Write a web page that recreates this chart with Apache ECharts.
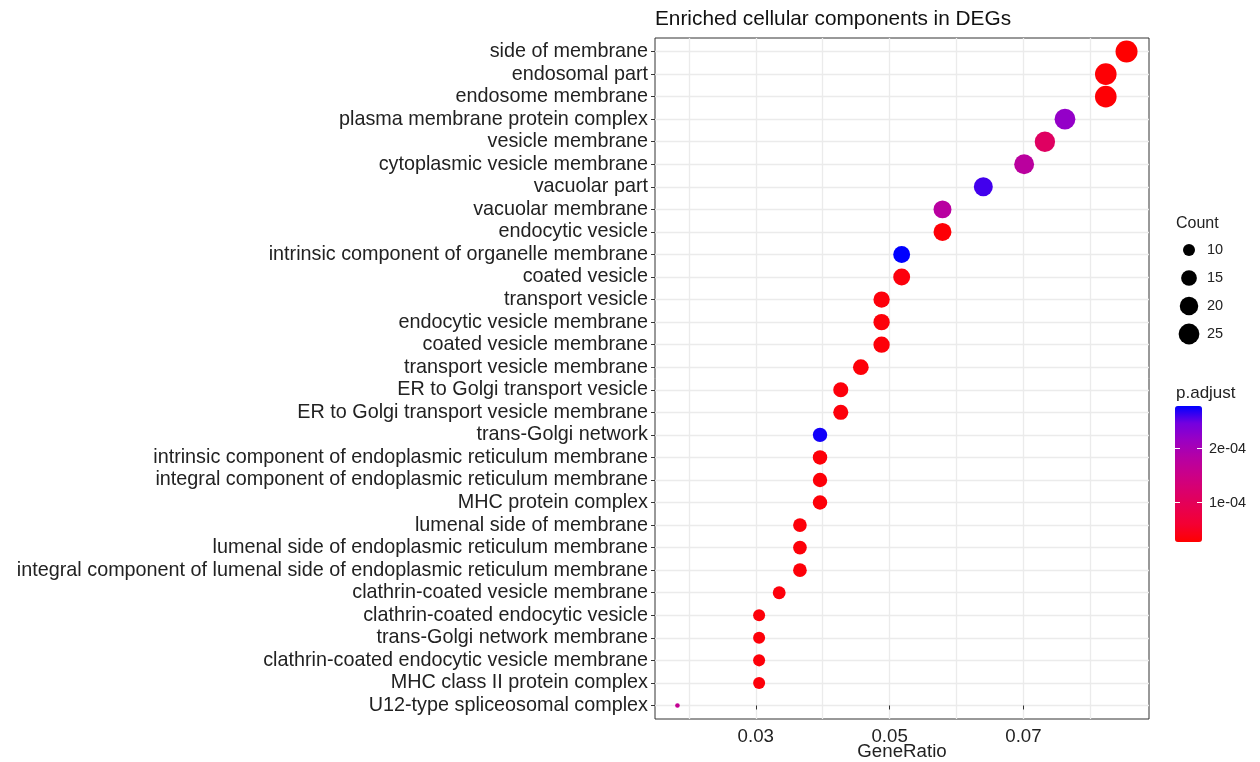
<!DOCTYPE html>
<html>
<head>
<meta charset="utf-8">
<script src="https://cdn.jsdelivr.net/npm/echarts@6/dist/echarts.min.js"></script>
<style>
html,body{margin:0;padding:0;background:#fff;}
#chart{width:1260px;height:762px;}
</style>
</head>
<body>
<div id="chart"></div>
<script>
// ---- data (top row to bottom row, as in the picture) ----
const categories = [
  'side of membrane',
  'endosomal part',
  'endosome membrane',
  'plasma membrane protein complex',
  'vesicle membrane',
  'cytoplasmic vesicle membrane',
  'vacuolar part',
  'vacuolar membrane',
  'endocytic vesicle',
  'intrinsic component of organelle membrane',
  'coated vesicle',
  'transport vesicle',
  'endocytic vesicle membrane',
  'coated vesicle membrane',
  'transport vesicle membrane',
  'ER to Golgi transport vesicle',
  'ER to Golgi transport vesicle membrane',
  'trans-Golgi network',
  'intrinsic component of endoplasmic reticulum membrane',
  'integral component of endoplasmic reticulum membrane',
  'MHC protein complex',
  'lumenal side of membrane',
  'lumenal side of endoplasmic reticulum membrane',
  'integral component of lumenal side of endoplasmic reticulum membrane',
  'clathrin-coated vesicle membrane',
  'clathrin-coated endocytic vesicle',
  'trans-Golgi network membrane',
  'clathrin-coated endocytic vesicle membrane',
  'MHC class II protein complex',
  'U12-type spliceosomal complex'
];
const geneRatio = [
  0.0854, 0.0823, 0.0823, 0.0762, 0.0732, 0.0701, 0.0640, 0.0579, 0.0579, 0.0518,
  0.0518, 0.0488, 0.0488, 0.0488, 0.0457, 0.0427, 0.0427, 0.0396, 0.0396, 0.0396,
  0.0396, 0.0366, 0.0366, 0.0366, 0.0335, 0.0305, 0.0305, 0.0305, 0.0305, 0.0183
];
const counts = [
  28, 27, 27, 25, 24, 23, 21, 19, 19, 17,
  17, 16, 16, 16, 15, 14, 14, 13, 13, 13,
  13, 12, 12, 12, 11, 10, 10, 10, 10, 6
];
const pAdjust = [
  2.60e-5, 2.9e-5, 2.9e-5, 2.20e-4, 1.09e-4, 1.76e-4, 2.60e-4, 1.78e-4, 3.0e-5, 2.78e-4,
  3.4e-5, 3.3e-5, 3.2e-5, 3.2e-5, 3.1e-5, 3.3e-5, 3.3e-5, 2.73e-4, 3.1e-5, 3.1e-5,
  3.1e-5, 3.2e-5, 3.2e-5, 3.2e-5, 3.3e-5, 3.2e-5, 3.2e-5, 3.2e-5, 3.2e-5, 1.62e-4
];
const xTickValues = [0.03, 0.05, 0.07];
const xTickLabels = ['0.03', '0.05', '0.07'];
const xMinorValues = [0.02, 0.04, 0.06, 0.08];
const sizeLegendValues = [10, 15, 20, 25];
const colorLegendValues = [2e-4, 1e-4];
const colorLegendLabels = ['2e-04', '1e-04'];
const titleText = 'Enriched cellular components in DEGs';
const xAxisTitle = 'GeneRatio';
const sizeLegendTitle = 'Count';
const colorLegendTitle = 'p.adjust';

// ---- layout / style ----
const FONT = '"Liberation Sans", Arial, sans-serif';
const TXT = '#222';
const GRID = {left: 655, top: 38, right: 111, bottom: 43};
const n = categories.length;
const cMin = Math.min(...counts), cMax = Math.max(...counts);
const SMIN = 4.6, SMAX = 22;
function sizeOf(c) { return SMIN + (SMAX - SMIN) * Math.sqrt((c - cMin) / (cMax - cMin)); }
const pMin = Math.min(...pAdjust), pMax = Math.max(...pAdjust);
const gMin = Math.min(...geneRatio), gMax = Math.max(...geneRatio);
const xPad = (gMax - gMin) * 0.05;
const colorStops = ['#FF0000','#F40031','#E8004F','#DA006C','#CA0089','#B500A5','#9A00C3','#7300E0','#0000FF'];

const yIdx = categories.map((c, i) => n - 1 - i);
const data = categories.map((c, i) => [geneRatio[i], n - 1 - i, counts[i], pAdjust[i], c]);

// legend geometry
const BAR = {x: 1175, y: 406, w: 27, h: 136};
const sizeLegendY = [250, 278, 306, 334];
const graphics = [];
graphics.push({type: 'text', left: 655, top: 9, style: {text: titleText, font: '20.8px ' + FONT, fill: '#111'}});
graphics.push({type: 'text', x: 1176, y: 224, style: {text: sizeLegendTitle, font: '16px ' + FONT, fill: TXT, textVerticalAlign: 'middle'}});
sizeLegendValues.forEach((v, i) => {
  graphics.push({type: 'circle', shape: {cx: 1189, cy: sizeLegendY[i], r: sizeOf(v) / 2}, style: {fill: '#000'}});
  graphics.push({type: 'text', x: 1207, y: sizeLegendY[i], style: {text: String(v), font: '14.5px ' + FONT, fill: TXT, textVerticalAlign: 'middle'}});
});
graphics.push({type: 'text', x: 1176, y: 393, style: {text: colorLegendTitle, font: '17px ' + FONT, fill: TXT, textVerticalAlign: 'middle'}});
colorLegendValues.forEach((v, i) => {
  const yy = Math.round(BAR.y + BAR.h - (v - pMin) / (pMax - pMin) * BAR.h) + 0.5;
  graphics.push({type: 'line', z: 100, shape: {x1: BAR.x, y1: yy, x2: BAR.x + 5, y2: yy}, style: {stroke: '#fff', lineWidth: 1}});
  graphics.push({type: 'line', z: 100, shape: {x1: BAR.x + BAR.w - 5, y1: yy, x2: BAR.x + BAR.w, y2: yy}, style: {stroke: '#fff', lineWidth: 1}});
  graphics.push({type: 'text', x: 1209, y: yy, style: {text: colorLegendLabels[i], font: '14.5px ' + FONT, fill: TXT, textVerticalAlign: 'middle'}});
});

const chart = echarts.init(document.getElementById('chart'), null, {renderer: 'canvas'});
chart.setOption({
  animation: false,
  backgroundColor: '#fff',
  grid: {left: GRID.left, top: GRID.top, right: GRID.right, bottom: GRID.bottom, show: true, borderColor: '#333', borderWidth: 1, backgroundColor: 'transparent', containLabel: false, outerBoundsMode: 'none'},
  xAxis: [{
    type: 'value', min: gMin - xPad, max: gMax + xPad,
    name: xAxisTitle, nameLocation: 'middle', nameGap: 23, nameMoveOverlap: false,
    nameTextStyle: {fontFamily: FONT, fontSize: 18.7, color: TXT},
    axisLine: {show: false},
    axisTick: {show: true, length: 4, lineStyle: {color: '#333'}, customValues: xTickValues},
    axisLabel: {customValues: xTickValues, formatter: v => xTickLabels[xTickValues.findIndex(t => Math.abs(t - v) < 1e-9)] || '', fontFamily: FONT, fontSize: 18.7, color: TXT, margin: 8},
    splitLine: {show: true, lineStyle: {color: '#EBEBEB', width: 1.3}}
  }, {
    type: 'value', min: gMin - xPad, max: gMax + xPad, position: 'bottom',
    axisLine: {show: false}, axisLabel: {show: false},
    axisTick: {show: false, customValues: xMinorValues},
    splitLine: {show: true, lineStyle: {color: '#EBEBEB', width: 1.3}}
  }],
  yAxis: {
    type: 'value', min: -0.6, max: n - 1 + 0.6,
    axisLine: {show: false},
    axisTick: {show: true, length: 4, lineStyle: {color: '#333'}, customValues: yIdx},
    axisLabel: {customValues: yIdx, formatter: v => categories[n - 1 - Math.round(v)], fontFamily: FONT, fontSize: 19.8, color: TXT, margin: 7},
    splitLine: {show: true, lineStyle: {color: '#EBEBEB', width: 1.3}}
  },
  visualMap: {
    type: 'continuous', dimension: 3, seriesIndex: 0,
    min: pMin, max: pMax, calculable: false, show: true,
    left: BAR.x, top: BAR.y, itemWidth: BAR.w, itemHeight: BAR.h, padding: 0,
    formatter: () => '', text: null, hoverLink: false,
    inRange: {color: colorStops}
  },
  series: [{
    type: 'scatter', xAxisIndex: 0, data: data,
    symbol: 'circle',
    symbolSize: v => sizeOf(v[2]),
    itemStyle: {opacity: 1},
    z: 5
  }],
  graphic: graphics
});
</script>
</body>
</html>
